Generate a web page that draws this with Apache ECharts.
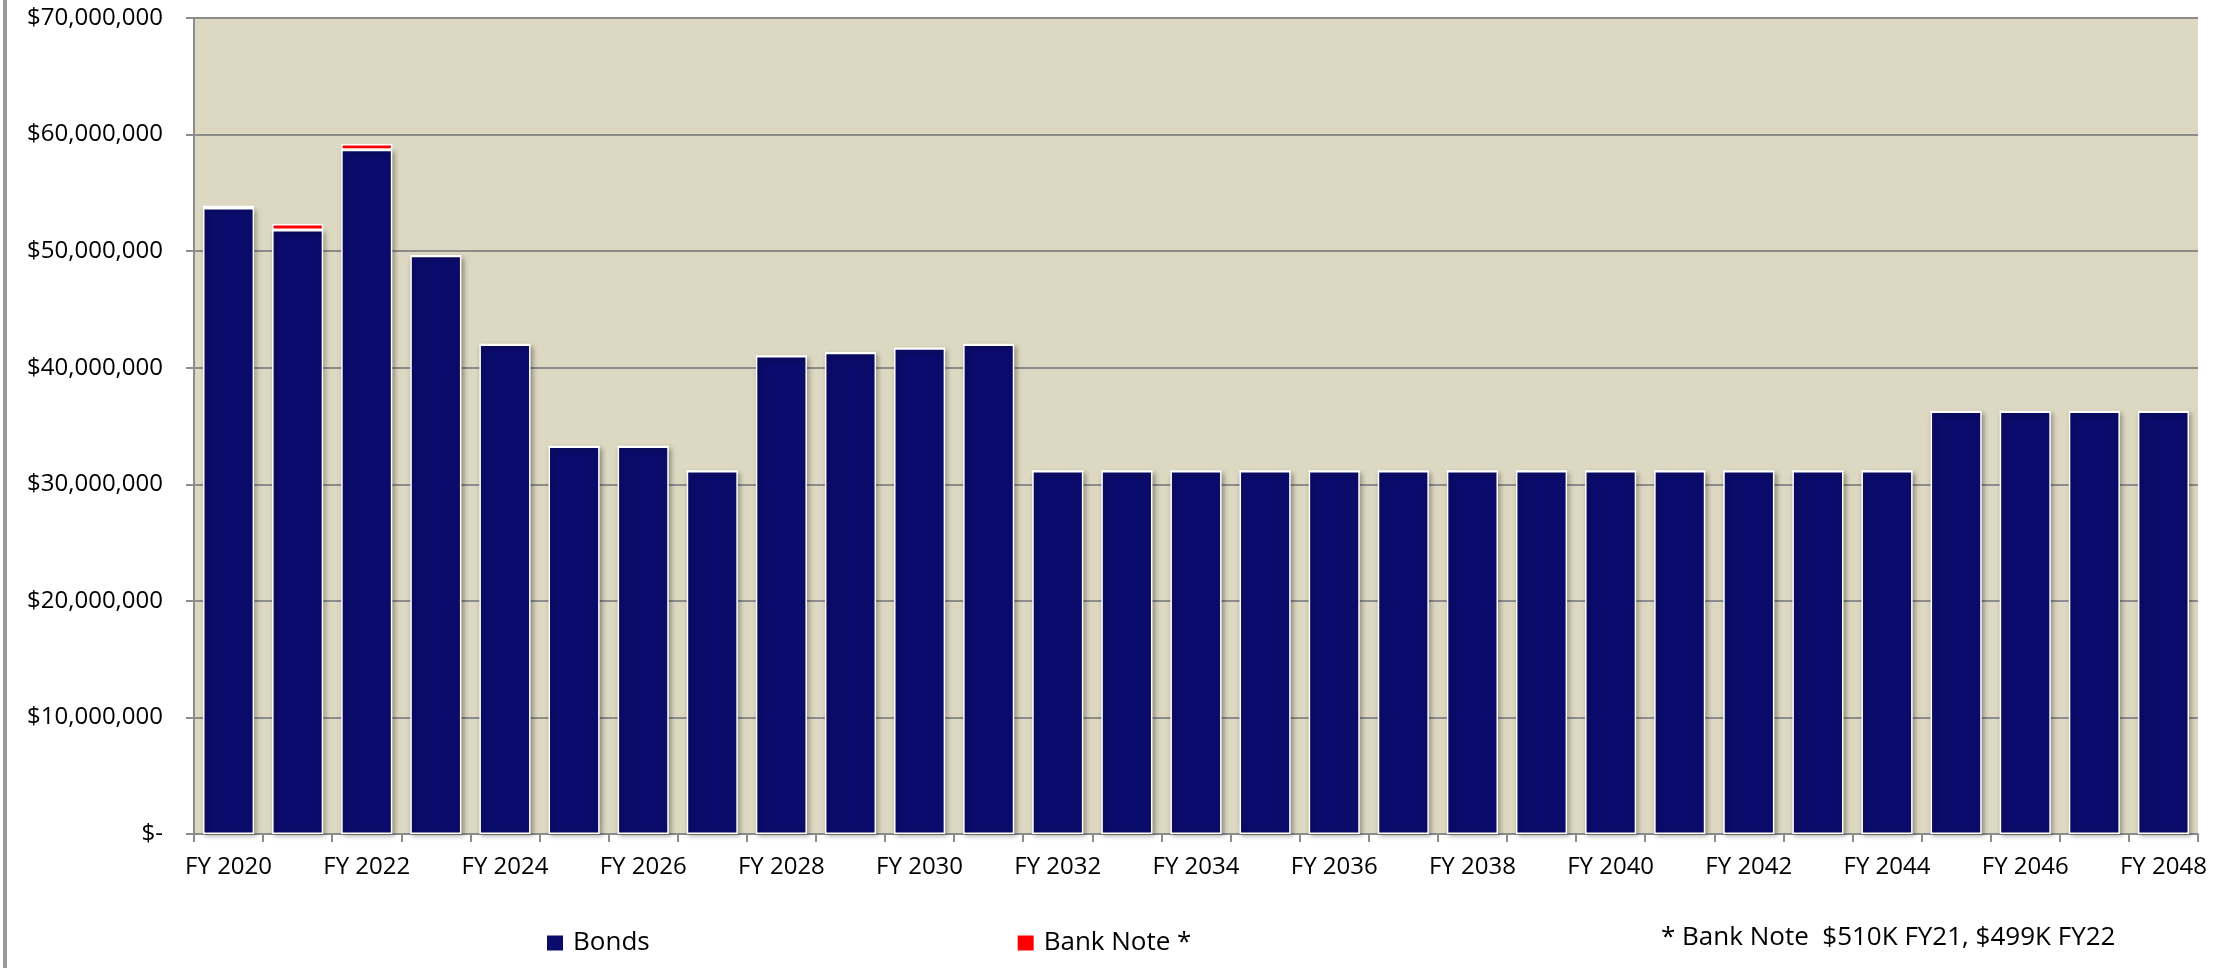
<!DOCTYPE html>
<html>
<head>
<meta charset="utf-8">
<script src="https://cdn.jsdelivr.net/npm/echarts@6/dist/echarts.min.js"></script>
<style>
html,body{margin:0;padding:0;background:#fff;}
#chart{width:2221px;height:968px;}
</style>
</head>
<body>
<div id="chart"></div>
<script>
const categories = ['FY 2020','FY 2021','FY 2022','FY 2023','FY 2024','FY 2025','FY 2026','FY 2027','FY 2028','FY 2029',
  'FY 2030','FY 2031','FY 2032','FY 2033','FY 2034','FY 2035','FY 2036','FY 2037','FY 2038','FY 2039',
  'FY 2040','FY 2041','FY 2042','FY 2043','FY 2044','FY 2045','FY 2046','FY 2047','FY 2048'];
const bonds = [53700000, 51820000, 58700000, 49600000, 42000000, 33240000, 33240000, 31140000, 41000000, 41290000,
  41670000, 42000000, 31140000, 31140000, 31140000, 31140000, 31140000, 31140000, 31140000, 31140000,
  31140000, 31140000, 31140000, 31140000, 31140000, 36240000, 36240000, 36240000, 36240000];
const bankNote = [200000, 510000, 499000, 0, 0, 0, 0, 0, 0, 0,
  0, 0, 0, 0, 0, 0, 0, 0, 0, 0,
  0, 0, 0, 0, 0, 0, 0, 0, 0];
const seriesNames = ['Bonds', 'Bank Note *'];
const footnote = '* Bank Note  $510K FY21, $499K FY22';

const FONT = '"Open Sans", "Liberation Sans", sans-serif';
const chart = echarts.init(document.getElementById('chart'));

function money(v) {
  if (v === 0) return '$-';
  return '$' + v.toString().replace(/\B(?=(\d{3})+(?!\d))/g, ',');
}

const shadow = {shadowColor: 'rgba(0,0,0,0.35)', shadowBlur: 5, shadowOffsetX: 2, shadowOffsetY: 2};

chart.setOption({
  animation: false,
  backgroundColor: '#ffffff',
  grid: {left: 194, right: 23, top: 18, bottom: 134, show: true, backgroundColor: '#DDD8C2', borderWidth: 0},
  legend: {
    left: 542, top: 923,
    itemWidth: 16, itemHeight: 15, itemGap: 368,
    icon: 'rect',
    itemStyle: {borderWidth: 0, shadowBlur: 0, shadowOffsetX: 0, shadowOffsetY: 0},
    textStyle: {fontFamily: FONT, fontSize: 26, color: '#000', lineHeight: 30, padding: [0, 0, 0, 5]},
    data: seriesNames
  },
  xAxis: {
    type: 'category',
    data: categories,
    axisLine: {show: true, lineStyle: {color: '#8c8c8c', width: 2}},
    axisTick: {show: true, interval: 0, length: 8, lineStyle: {color: '#8c8c8c', width: 2}},
    axisLabel: {interval: 1, margin: 21, fontFamily: FONT, fontSize: 24, color: '#000'},
    splitLine: {show: false}
  },
  yAxis: {
    type: 'value',
    min: 0, max: 70000000, interval: 10000000,
    axisLine: {show: true, lineStyle: {color: '#8c8c8c', width: 2}},
    axisTick: {show: true, length: 8, lineStyle: {color: '#8c8c8c', width: 2}},
    axisLabel: {margin: 31, fontFamily: FONT, fontSize: 24, color: '#000', formatter: money},
    splitLine: {show: true, lineStyle: {color: '#8c8c8c', width: 2}}
  },
  series: [
    {
      name: seriesNames[0], type: 'bar', stack: 'total', data: bonds,
      barWidth: '74%',
      itemStyle: Object.assign({color: '#0B0B6B', borderColor: '#ffffff', borderWidth: 1.5}, shadow)
    },
    {
      name: seriesNames[1], type: 'bar', stack: 'total', data: bankNote,
      barWidth: '74%',
      itemStyle: {color: '#FF0000', borderColor: '#ffffff', borderWidth: 1.5}
    }
  ],
  graphic: [
    {type: 'rect', left: 3, top: 0, shape: {width: 4, height: 968}, style: {fill: '#999999'}},
    {type: 'text', left: 1661, top: 923, style: {text: footnote, fontFamily: FONT, fontSize: 26, lineHeight: 30, fill: '#000'}}
  ]
});
</script>
</body>
</html>
